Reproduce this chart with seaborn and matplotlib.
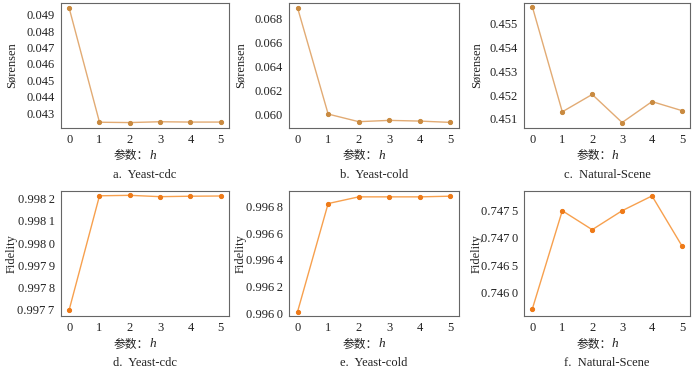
import matplotlib
matplotlib.use("Agg")
import matplotlib.pyplot as plt
import matplotlib.transforms as mtrans
import seaborn as sns
import pandas as pd

sns.set_style("white")
plt.rcParams['font.family'] = ['Liberation Serif', 'Noto Sans CJK SC']

h = [0, 1, 2, 3, 4, 5]

sor_cdc = [0.04940, 0.04246, 0.04244, 0.04249, 0.04247, 0.04247]
sor_cold = [0.06892, 0.06000, 0.05936, 0.05947, 0.05941, 0.05930]
sor_scene = [0.45571, 0.45130, 0.45203, 0.45085, 0.45173, 0.45135]

fid_cdc = [0.997698, 0.998214, 0.998216, 0.998210, 0.998212, 0.998213]
fid_cold = [0.996013, 0.996820, 0.996870, 0.996870, 0.996870, 0.996875]
fid_scene = [0.745699, 0.747500, 0.747152, 0.747500, 0.747772, 0.746855]

yt_sor_cdc = [0.043, 0.044, 0.045, 0.046, 0.047, 0.048, 0.049]
yl_sor_cdc = ["0.043", "0.044", "0.045", "0.046", "0.047", "0.048", "0.049"]
yt_sor_cold = [0.060, 0.062, 0.064, 0.066, 0.068]
yl_sor_cold = ["0.060", "0.062", "0.064", "0.066", "0.068"]
yt_sor_scene = [0.451, 0.452, 0.453, 0.454, 0.455]
yl_sor_scene = ["0.451", "0.452", "0.453", "0.454", "0.455"]
yt_fid_cdc = [0.9977, 0.9978, 0.9979, 0.9980, 0.9981, 0.9982]
yl_fid_cdc = ["0.997\u20097", "0.997\u20098", "0.997\u20099", "0.998\u20090", "0.998\u20091", "0.998\u20092"]
yt_fid_cold = [0.9960, 0.9962, 0.9964, 0.9966, 0.9968]
yl_fid_cold = ["0.996\u20090", "0.996\u20092", "0.996\u20094", "0.996\u20096", "0.996\u20098"]
yt_fid_scene = [0.7460, 0.7465, 0.7470, 0.7475]
yl_fid_scene = ["0.746\u20090", "0.746\u20095", "0.747\u20090", "0.747\u20095"]

captions = ["a.  Yeast-cdc", "b.  Yeast-cold", "c.  Natural-Scene",
            "d.  Yeast-cdc", "e.  Yeast-cold", "f.  Natural-Scene"]
ylabels = ["S\u00f8rensen"] * 3 + ["Fidelity"] * 3
xlabel_cn = "参数："
xlabel_var = "h"

series = [sor_cdc, sor_cold, sor_scene, fid_cdc, fid_cold, fid_scene]
yticks = [yt_sor_cdc, yt_sor_cold, yt_sor_scene, yt_fid_cdc, yt_fid_cold, yt_fid_scene]
yticklabels = [yl_sor_cdc, yl_sor_cold, yl_sor_scene, yl_fid_cdc, yl_fid_cold, yl_fid_scene]
ylims = [(0.04211, 0.04973), (0.05883, 0.06936), (0.45062, 0.45589),
         (0.99767, 0.998237), (0.99598, 0.996916), (0.745565, 0.747868)]

lefts = [0.0871, 0.4133, 0.749]
widths = [0.240, 0.242, 0.2367]
ylabel_x = [-0.296, -0.286, -0.288]
bottoms = [0.655, 0.148]
height = 0.338

line_cols = ['#e2ab74', '#f7a04e']
mark_cols = ['#c98a40', '#ee7a18']

fig = plt.figure(figsize=(7, 3.71), dpi=100)
for i in range(6):
    r, c = divmod(i, 3)
    ax = fig.add_axes([lefts[c], bottoms[r], widths[c], height])
    df = pd.DataFrame({"h": h, "v": series[i]})
    sns.lineplot(data=df, x="h", y="v", ax=ax, color=line_cols[r], linewidth=1.0,
                 marker='o', markersize=3.0, markerfacecolor=mark_cols[r],
                 markeredgecolor=mark_cols[r])
    ax.set_xlim(-0.27, 5.27)
    ax.set_ylim(*ylims[i])
    ax.set_xticks(h)
    ax.set_xticklabels([str(v) for v in h])
    ax.set_yticks(yticks[i])
    ax.set_yticklabels(yticklabels[i])
    ax.tick_params(axis='both', direction='out', length=2.5, width=0.6,
                   colors='#555555', labelsize=9, labelcolor='#222222', pad=2)
    for s in ax.spines.values():
        s.set_visible(True)
        s.set_color('#666666')
        s.set_linewidth(0.8)
    ax.set_xlabel("")
    base = ax.transAxes
    t_cn = mtrans.offset_copy(base, fig=fig, x=3, y=0, units='points')
    ax.text(0.5, -0.222, xlabel_cn, transform=t_cn, ha='right', va='center',
            fontsize=8.5, color='#222222', family=['Noto Sans CJK SC'])
    ax.text(0.5, -0.222, xlabel_var, transform=t_cn, ha='left', va='center',
            fontsize=9.5, color='#222222', style='italic', family=['Liberation Serif'])
    ax.set_ylabel(ylabels[i], fontsize=9, color='#222222', va='center')
    ax.yaxis.set_label_coords(ylabel_x[c], 0.5)
    ax.text(0.5, -0.375, captions[i], transform=ax.transAxes, ha='center', va='center',
            fontsize=9, color='#222222')

fig.savefig("out.png", dpi=100)
